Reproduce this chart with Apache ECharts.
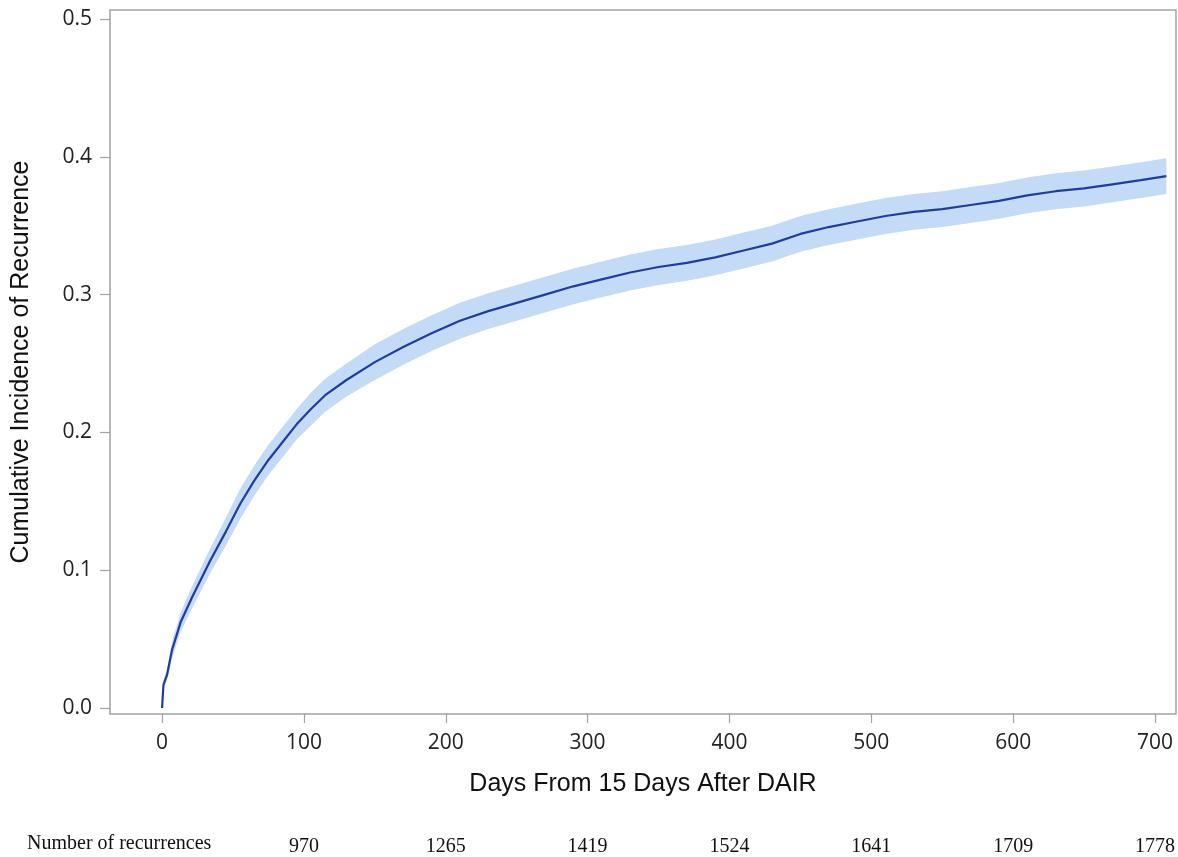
<!DOCTYPE html>
<html>
<head>
<meta charset="utf-8">
<script src="https://cdn.jsdelivr.net/npm/echarts@6/dist/echarts.min.js"></script>
<style>
html,body{margin:0;padding:0;background:#fff;}
#chart{width:1178px;height:857px;}
</style>
</head>
<body>
<div id="chart"></div>
<script>
// Days from 15 days after DAIR
const days = [0, 1, 3.5, 7, 13, 21, 34, 45, 55, 65, 75, 85, 95, 105, 115, 130, 150, 170, 190, 210, 230, 250, 270, 290, 310, 330, 350, 370, 390, 410, 430, 450, 470, 490, 510, 530, 550, 570, 590, 610, 630, 650, 670, 690, 708];
// Cumulative incidence estimate
const estimate = [0, 0.017, 0.024, 0.042, 0.062, 0.080, 0.107, 0.128, 0.148, 0.165, 0.180, 0.193, 0.206, 0.217, 0.227, 0.238, 0.251, 0.262, 0.272, 0.281, 0.288, 0.294, 0.300, 0.306, 0.311, 0.316, 0.320, 0.323, 0.327, 0.332, 0.337, 0.344, 0.349, 0.353, 0.357, 0.360, 0.362, 0.365, 0.368, 0.372, 0.375, 0.377, 0.380, 0.383, 0.386];
// Confidence band
const lower = [0, 0.014, 0.020, 0.036, 0.055, 0.072, 0.098, 0.118, 0.137, 0.154, 0.169, 0.182, 0.195, 0.205, 0.215, 0.226, 0.238, 0.249, 0.259, 0.268, 0.275, 0.281, 0.287, 0.293, 0.298, 0.303, 0.307, 0.310, 0.314, 0.319, 0.324, 0.331, 0.336, 0.340, 0.344, 0.347, 0.349, 0.352, 0.355, 0.359, 0.362, 0.364, 0.367, 0.370, 0.373];
const upper = [0, 0.020, 0.028, 0.048, 0.069, 0.088, 0.116, 0.138, 0.159, 0.176, 0.191, 0.204, 0.217, 0.229, 0.239, 0.250, 0.264, 0.275, 0.285, 0.294, 0.301, 0.307, 0.313, 0.319, 0.324, 0.329, 0.333, 0.336, 0.340, 0.345, 0.350, 0.357, 0.362, 0.366, 0.370, 0.373, 0.375, 0.378, 0.381, 0.385, 0.388, 0.390, 0.393, 0.396, 0.399];
// Axis ticks
const xTicks = [0, 100, 200, 300, 400, 500, 600, 700];
const yTicks = [0, 0.1, 0.2, 0.3, 0.4, 0.5];
// Number of recurrences row
const riskDays = [100, 200, 300, 400, 500, 600, 700];
const recurrences = [970, 1265, 1419, 1524, 1641, 1709, 1778];

const estData = days.map((d, i) => [d, estimate[i]]);
const bandData = days.map((d, i) => [d, lower[i], upper[i]]);

const chart = echarts.init(document.getElementById('chart'), null, {renderer: 'canvas'});
const gray = '#a3a3a3';
const tickFont = '"Open Sans", "Liberation Sans", sans-serif';

function renderBand(params, api) {
  if (params.dataIndex !== 0) return null;
  const top = [], bottom = [];
  for (let i = 0; i < days.length; i++) {
    top.push(api.coord([days[i], upper[i]]));
    bottom.push(api.coord([days[i], lower[i]]));
  }
  const pts = top.concat(bottom.reverse());
  return {
    type: 'polygon',
    shape: {points: pts},
    style: {fill: '#c3dbf7', stroke: null}
  };
}

chart.setOption({
  animation: false,
  backgroundColor: '#ffffff',
  grid: {
    left: 110, right: 2, top: 10, bottom: 143,
    show: true, borderColor: gray, borderWidth: 1.5, backgroundColor: 'transparent'
  },
  xAxis: [{
    type: 'value',
    min: -36.7, max: 714.8,
    axisLine: {show: false, onZero: false},
    splitLine: {show: false},
    axisTick: {show: true, inside: false, length: 9, lineStyle: {color: gray, width: 1.2}, customValues: xTicks},
    axisLabel: {customValues: xTicks, color: '#222', fontSize: 21, fontFamily: tickFont, margin: 19,
      formatter: v => String(Math.round(v))},
    name: 'Days From 15 Days After DAIR',
    nameLocation: 'middle',
    nameGap: 58,
    nameTextStyle: {fontSize: 25, color: '#111', fontFamily: '"Liberation Sans", Arial, sans-serif'}
  }, {
    type: 'value',
    position: 'bottom',
    offset: 121,
    min: -36.7, max: 714.8,
    axisLine: {show: false, onZero: false},
    splitLine: {show: false},
    axisTick: {show: false},
    axisLabel: {customValues: riskDays, color: '#111', fontSize: 20, margin: 2,
      fontFamily: '"Liberation Serif", "Times New Roman", serif',
      formatter: v => {
        const i = riskDays.indexOf(Math.round(v));
        return i >= 0 ? String(recurrences[i]) : '';
      }}
  }],
  yAxis: {
    type: 'value',
    min: -0.00435, max: 0.5065,
    axisLine: {show: false, onZero: false},
    splitLine: {show: false},
    axisTick: {show: true, inside: false, length: 10, lineStyle: {color: gray, width: 1.2}, customValues: yTicks},
    axisLabel: {customValues: yTicks, color: '#222', fontSize: 21, fontFamily: tickFont, margin: 18,
      formatter: v => v.toFixed(1)},
    name: 'Cumulative Incidence of Recurrence',
    nameLocation: 'middle',
    nameGap: 76,
    nameTextStyle: {fontSize: 25, color: '#111', fontFamily: '"Liberation Sans", Arial, sans-serif'}
  },
  graphic: [{
    type: 'text',
    left: 27,
    top: 834,
    style: {text: 'Number of recurrences', fontSize: 20, fontFamily: '"Liberation Serif", "Times New Roman", serif', fill: '#111'}
  }],
  series: [{
    name: 'band',
    type: 'custom',
    data: bandData,
    encode: {x: 0, y: [1, 2]},
    renderItem: renderBand,
    silent: true,
    clip: true,
    z: 2
  }, {
    name: 'estimate',
    type: 'line',
    data: estData,
    symbol: 'none',
    lineStyle: {color: '#1f3c9f', width: 2.2},
    z: 5
  }]
});
</script>
</body>
</html>
